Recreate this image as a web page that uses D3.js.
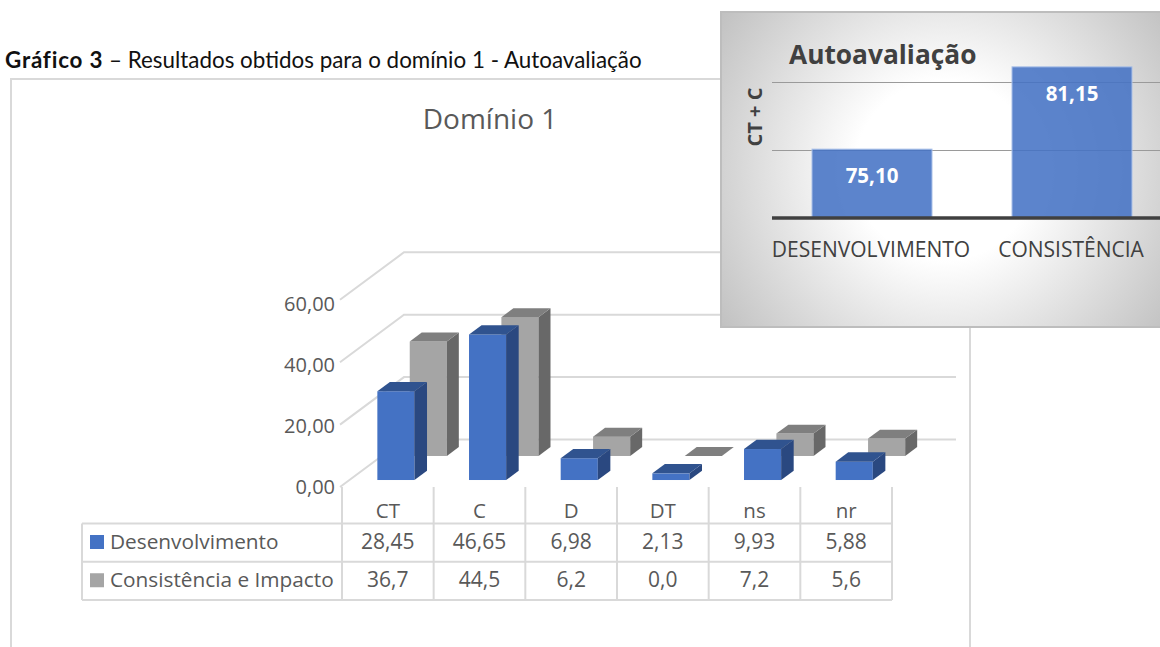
<!DOCTYPE html>
<html lang="pt">
<head>
<meta charset="UTF-8">
<title>Gráfico 3</title>
<script src="https://d3js.org/d3.v7.min.js"></script>
<style>
  body { margin: 0; background: #fff; overflow: hidden; }
  svg { display: block; }
  text { font-family: "Open Sans", sans-serif; }
  .caption { font-family: Lato, sans-serif; fill: #111; }
</style>
</head>
<body>
<svg id="chart" width="1160" height="647"></svg>
<script>
const categories = ['CT', 'C', 'D', 'DT', 'ns', 'nr'];
const desenvolvimento = [28.45, 46.65, 6.98, 2.13, 9.93, 5.88];
const consistencia = [36.7, 44.5, 6.2, 0.0, 7.2, 5.6];
const rowDesenvolvimento = ['28,45', '46,65', '6,98', '2,13', '9,93', '5,88'];
const rowConsistencia = ['36,7', '44,5', '6,2', '0,0', '7,2', '5,6'];
const yTicks = [0, 20, 40, 60];
const insetCategories = ['DESENVOLVIMENTO', 'CONSISTÊNCIA'];
const insetValues = [75.10, 81.15];
const insetTicks = [75, 80];

const svg = d3.select('#chart');
const grid = '#d9d9d9';
const textCol = '#595959';
const ptFormat = d3.formatLocale({ decimal: ',', thousands: '.', grouping: [3], currency: ['', ''] });

// caption
const cap = svg.append('text').attr('class', 'caption').attr('x', 5).attr('y', 68).attr('font-size', 22.4);
cap.append('tspan').attr('font-weight', 700).attr('letter-spacing', 0.8).text('Gráfico 3');
cap.append('tspan').text(' – Resultados obtidos para o domínio 1 - Autoavaliação');

// chart frame
svg.append('path').attr('d', 'M11,647V79H970V647').attr('fill', 'none').attr('stroke', grid).attr('stroke-width', 2);
svg.append('text').attr('x', 490).attr('y', 129).attr('text-anchor', 'middle')
  .attr('font-size', 28).attr('fill', textCol).text('Domínio 1');

// pseudo 3d: depth 0 is the front of the floor, depth 1 the back wall
const xBand = d3.scaleBand().domain(categories).range([342, 892]);
const yVal = d3.scaleLinear().domain([0, 60]).range([0, 187.2]);
const depthX = d3.scaleLinear().domain([0, 1]).range([0, 64]);
const depthY = d3.scaleLinear().domain([0, 1]).range([487, 439.5]);

// walls
const walls = svg.append('g').attr('fill', 'none').attr('stroke', grid).attr('stroke-width', 2);
yTicks.forEach(t => {
  const h = yVal(t);
  walls.append('path').attr('d',
    `M${340 + depthX(0)},${depthY(0) - h}L${340 + depthX(1)},${depthY(1) - h}H956`);
});

// y labels
const yAxis = d3.scaleLinear().domain([0, 60]).range([487, 304]);
svg.append('g').attr('transform', 'translate(335,0)')
  .call(d3.axisLeft(yAxis).tickValues(yTicks).tickSize(0).tickPadding(0).tickFormat(ptFormat.format('.2f')))
  .call(g => g.select('.domain').remove())
  .call(g => g.selectAll('text').attr('font-size', 20).attr('fill', textCol).style('font-family', '"Open Sans", sans-serif'));

function drawBars(values, d0, d1, front, side, top) {
  const w = xBand.bandwidth() * 0.405;
  const left = xBand.bandwidth() * 0.283;
  const g = svg.append('g');
  values.forEach((v, i) => {
    const x0 = xBand(categories[i]) + left + depthX(d0);
    const y0 = depthY(d0);
    const ox = depthX(d1) - depthX(d0);
    const oy = depthY(d1) - depthY(d0);
    const h = yVal(v);
    if (h > 0) {
      g.append('rect').attr('x', x0).attr('y', y0 - h).attr('width', w).attr('height', h).attr('fill', front);
      g.append('path').attr('fill', side)
        .attr('d', `M${x0 + w},${y0}V${y0 - h}l${ox},${oy}V${y0 + oy}Z`);
    }
    g.append('path').attr('fill', top)
      .attr('d', `M${x0},${y0 - h}h${w}l${ox},${oy}h${-w}Z`);
  });
}
drawBars(consistencia, 0.653, 0.84, '#a5a5a5', '#686868', '#7f7f7f');
drawBars(desenvolvimento, 0.147, 0.343, '#4472c4', '#2a4880', '#30538f');

// data table
const rowTop = 523.5, rowH = 38.25;
const table = svg.append('g').attr('fill', 'none').attr('stroke', grid).attr('stroke-width', 2);
[0, 1, 2].forEach(r => {
  table.append('line').attr('x1', 82).attr('x2', 892)
    .attr('y1', rowTop + r * rowH).attr('y2', rowTop + r * rowH);
});
table.append('line').attr('x1', 82).attr('x2', 82).attr('y1', rowTop).attr('y2', rowTop + 2 * rowH);
categories.concat(['end']).forEach((c, i) => {
  const x = 342 + i * xBand.step();
  table.append('line').attr('x1', x).attr('x2', x).attr('y1', 487).attr('y2', rowTop + 2 * rowH);
});
const cx = c => xBand(c) + xBand.bandwidth() / 2;
svg.append('g').selectAll('text').data(categories).enter().append('text')
  .attr('x', cx).attr('y', 518).attr('text-anchor', 'middle').attr('font-size', 20.5).attr('fill', textCol).text(d => d);

[[rowDesenvolvimento, 'Desenvolvimento', '#4472c4'], [rowConsistencia, 'Consistência e Impacto', '#a5a5a5']].forEach((row, r) => {
  const base = rowTop + r * rowH + 25.5;
  svg.append('rect').attr('x', 90).attr('y', base - 14).attr('width', 14).attr('height', 14).attr('fill', row[2]);
  svg.append('text').attr('x', 110).attr('y', base).attr('font-size', 20.8).attr('fill', textCol).text(row[1]);
  svg.append('g').selectAll('text').data(row[0]).enter().append('text')
    .attr('x', (d, i) => cx(categories[i])).attr('y', base).attr('text-anchor', 'middle')
    .attr('font-size', 21).attr('fill', textCol).text(d => d);
});

// inset panel
const defs = svg.append('defs');
const rg = defs.append('radialGradient').attr('id', 'panelBg').attr('gradientUnits', 'userSpaceOnUse')
  .attr('cx', 945).attr('cy', 170).attr('r', 300);
rg.append('stop').attr('offset', '0.3').attr('stop-color', '#ffffff');
rg.append('stop').attr('offset', '1').attr('stop-color', '#b8b8b8');
svg.append('rect').attr('x', 721).attr('y', 12).attr('width', 445).attr('height', 315)
  .attr('fill', 'url(#panelBg)').attr('stroke', '#bdbdbd').attr('stroke-width', 2);

const inX = d3.scaleBand().domain(insetCategories).range([772, 1172]).paddingInner(0.4).paddingOuter(0.2);
const inY = d3.scaleLinear().domain([70, 80]).range([218.5, 82.5]);

insetTicks.forEach(t => {
  svg.append('line').attr('x1', 772).attr('x2', 1160).attr('y1', inY(t)).attr('y2', inY(t))
    .attr('stroke', '#9a9a9a').attr('stroke-width', 1.2);
});
svg.append('g').selectAll('rect').data(insetValues).enter().append('rect')
  .attr('x', (d, i) => inX(insetCategories[i])).attr('y', d => inY(d))
  .attr('width', inX.bandwidth()).attr('height', d => inY(70) - inY(d))
  .attr('fill', '#4472c4').attr('fill-opacity', 0.87).attr('stroke', '#a9c0e8').attr('stroke-width', 1);
svg.append('line').attr('x1', 772).attr('x2', 1160).attr('y1', 218).attr('y2', 218)
  .attr('stroke', '#404040').attr('stroke-width', 3.5);

svg.append('g').selectAll('text').data(insetValues).enter().append('text')
  .attr('x', (d, i) => inX(insetCategories[i]) + inX.bandwidth() / 2)
  .attr('y', d => inY(d) + 34).attr('text-anchor', 'middle')
  .attr('font-size', 20.5).attr('font-weight', 700).attr('fill', '#fff')
  .text(d => ptFormat.format('.2f')(d));
svg.append('g').selectAll('text').data(insetCategories).enter().append('text')
  .attr('x', d => inX(d) + inX.bandwidth() / 2 - 1).attr('y', 257).attr('text-anchor', 'middle')
  .attr('font-size', 21).attr('fill', '#404040').text(d => d);
svg.append('text').attr('x', 789).attr('y', 64).attr('font-size', 26.3).attr('font-weight', 700)
  .attr('fill', '#404040').text('Autoavaliação');
svg.append('text').attr('transform', 'translate(762,117) rotate(-90)').attr('text-anchor', 'middle')
  .attr('font-size', 20).attr('font-weight', 700).attr('fill', '#404040').text('CT + C');
</script>
</body>
</html>
